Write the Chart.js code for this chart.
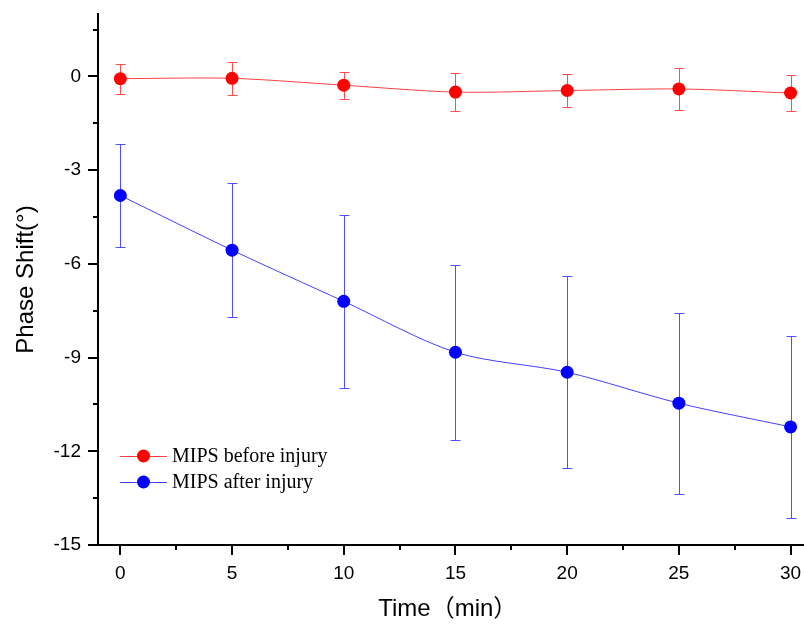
<!DOCTYPE html>
<html lang="en">
<head>
    <meta charset="UTF-8">
    <title>Phase Shift</title>
    <script src="https://cdn.jsdelivr.net/npm/chart.js"></script>
    <style>
        body { margin: 0; padding: 0; background: #fff; overflow: hidden; }
        #chart-container { width: 804px; height: 624px; }
    </style>
</head>
<body>
    <div id="chart-container">
        <canvas id="myChart" width="804" height="624"></canvas>
    </div>

    <script>
        // values
        const times = [0, 5, 10, 15, 20, 25, 30];
        const beforeMean = [-0.07, -0.06, -0.28, -0.5, -0.45, -0.4, -0.53];
        const beforeErr = [0.48, 0.53, 0.43, 0.62, 0.53, 0.67, 0.57];
        const afterMean = [-3.81, -5.56, -7.2, -8.83, -9.47, -10.46, -11.22];
        const afterErr = [1.65, 2.14, 2.77, 2.8, 3.07, 2.9, 2.9];
        const seriesLabels = ['MIPS before injury', 'MIPS after injury'];
        const xTicks = [0, 2.5, 5, 7.5, 10, 12.5, 15, 17.5, 20, 22.5, 25, 27.5, 30];
        const yTicks = [-15, -13.5, -12, -10.5, -9, -7.5, -6, -4.5, -3, -1.5, 0, 1.5];

        const toPoints = (ys) => times.map((t, i) => ({ x: t, y: ys[i] }));

        // error bars + axis tick marks (major / minor)
        const extras = {
            id: 'extras',
            beforeDatasetsDraw(chart) {
                const ctx = chart.ctx;
                const xs = chart.scales.x, ys = chart.scales.y;
                const sets = [
                    { mean: beforeMean, err: beforeErr, color: '#ff5050' },
                    { mean: afterMean, err: afterErr, color: '#5050ff' }
                ];
                ctx.save();
                ctx.lineWidth = 1;
                sets.forEach(s => {
                    ctx.strokeStyle = s.color;
                    times.forEach((t, i) => {
                        const px = Math.round(xs.getPixelForValue(t)) + 0.5;
                        const top = Math.round(ys.getPixelForValue(s.mean[i] + s.err[i])) + 0.5;
                        const bot = Math.round(ys.getPixelForValue(s.mean[i] - s.err[i])) + 0.5;
                        ctx.beginPath();
                        ctx.moveTo(px, top); ctx.lineTo(px, bot);
                        ctx.moveTo(px - 5, top); ctx.lineTo(px + 5, top);
                        ctx.moveTo(px - 5, bot); ctx.lineTo(px + 5, bot);
                        ctx.stroke();
                    });
                });
                ctx.restore();
            },
            afterDraw(chart) {
                const ctx = chart.ctx;
                const xs = chart.scales.x, ys = chart.scales.y;
                const area = chart.chartArea;
                ctx.save();
                ctx.strokeStyle = '#000';
                ctx.lineWidth = 2;
                ctx.beginPath();
                // x axis line runs on to the right edge
                ctx.moveTo(area.right - 1, area.bottom); ctx.lineTo(chart.width, area.bottom);
                xTicks.forEach(v => {
                    const px = Math.round(xs.getPixelForValue(v));
                    const len = v % 5 === 0 ? 10 : 5;
                    ctx.moveTo(px, area.bottom); ctx.lineTo(px, area.bottom + len);
                });
                yTicks.forEach(v => {
                    const py = Math.round(ys.getPixelForValue(v));
                    const len = v % 3 === 0 ? 10 : 5;
                    ctx.moveTo(area.left, py); ctx.lineTo(area.left - len, py);
                });
                ctx.stroke();

                // legend
                const colors = ['#ff0000', '#0000ff'];
                const lineColors = ['#ff4040', '#4040ff'];
                ctx.font = '20px "Liberation Serif"';
                ctx.textBaseline = 'middle';
                seriesLabels.forEach((lab, i) => {
                    const y = 456 + i * 26;
                    ctx.strokeStyle = lineColors[i];
                    ctx.lineWidth = 1;
                    ctx.beginPath();
                    ctx.moveTo(120, y + 0.5); ctx.lineTo(167, y + 0.5);
                    ctx.stroke();
                    ctx.fillStyle = colors[i];
                    ctx.beginPath();
                    ctx.arc(143.5, y, 6.5, 0, Math.PI * 2);
                    ctx.fill();
                    ctx.fillStyle = '#000';
                    ctx.fillText(lab, 172, y + 1);
                });
                ctx.restore();
            }
        };

        const ctx = document.getElementById('myChart').getContext('2d');
        const myChart = new Chart(ctx, {
            type: 'line',
            data: {
                datasets: [
                    {
                        label: seriesLabels[0],
                        data: toPoints(beforeMean),
                        borderColor: '#ff4040',
                        borderWidth: 1,
                        backgroundColor: '#ff0000',
                        pointBackgroundColor: '#ff0000',
                        pointBorderWidth: 0,
                        pointRadius: 6.5,
                        tension: 0.3,
                        fill: false
                    },
                    {
                        label: seriesLabels[1],
                        data: toPoints(afterMean),
                        borderColor: '#4040ff',
                        borderWidth: 1,
                        backgroundColor: '#0000ff',
                        pointBackgroundColor: '#0000ff',
                        pointBorderWidth: 0,
                        pointRadius: 6.5,
                        tension: 0.3,
                        fill: false
                    }
                ]
            },
            options: {
                responsive: false,
                animation: false,
                events: [],
                layout: { padding: { top: 14, right: 0, left: 0, bottom: 0 } },
                plugins: {
                    legend: { display: false },
                    tooltip: { enabled: false }
                },
                scales: {
                    x: {
                        type: 'linear',
                        min: -1,
                        max: 30.31,
                        afterBuildTicks: s => { s.ticks = xTicks.map(v => ({ value: v })); },
                        afterFit: s => {
                            s.height = 79;
                            s.paddingLeft = 0; s.paddingRight = 0;
                        },
                        grid: { display: false, drawTicks: false },
                        border: { display: true, color: '#000', width: 2 },
                        ticks: {
                            color: '#000',
                            padding: 17,
                            maxRotation: 0,
                            autoSkip: false,
                            font: { family: '"Liberation Sans", Arial', size: 19 },
                            callback: v => (v % 5 === 0 ? String(v) : '')
                        },
                        title: {
                            display: true,
                            text: 'Time（min）',
                            color: '#000',
                            padding: { top: 0, bottom: 0 },
                            font: { family: '"Liberation Sans", "Noto Sans CJK SC", Arial', size: 24 }
                        }
                    },
                    y: {
                        min: -15,
                        max: 2,
                        afterBuildTicks: s => { s.ticks = yTicks.map(v => ({ value: v })); },
                        afterFit: s => {
                            s.width = 98;
                            s.paddingTop = 0; s.paddingBottom = 0;
                        },
                        grid: { display: false, drawTicks: false },
                        border: { display: true, color: '#000', width: 2 },
                        ticks: {
                            color: '#000',
                            padding: 17,
                            autoSkip: false,
                            font: { family: '"Liberation Sans", Arial', size: 19 },
                            callback: v => (v % 3 === 0 ? String(v) : '')
                        },
                        title: {
                            display: true,
                            text: 'Phase Shift(°)',
                            color: '#000',
                            padding: { top: 12, bottom: 0 },
                            font: { family: '"Liberation Sans", Arial', size: 24 }
                        }
                    }
                }
            },
            plugins: [extras]
        });
    </script>
</body>
</html>
